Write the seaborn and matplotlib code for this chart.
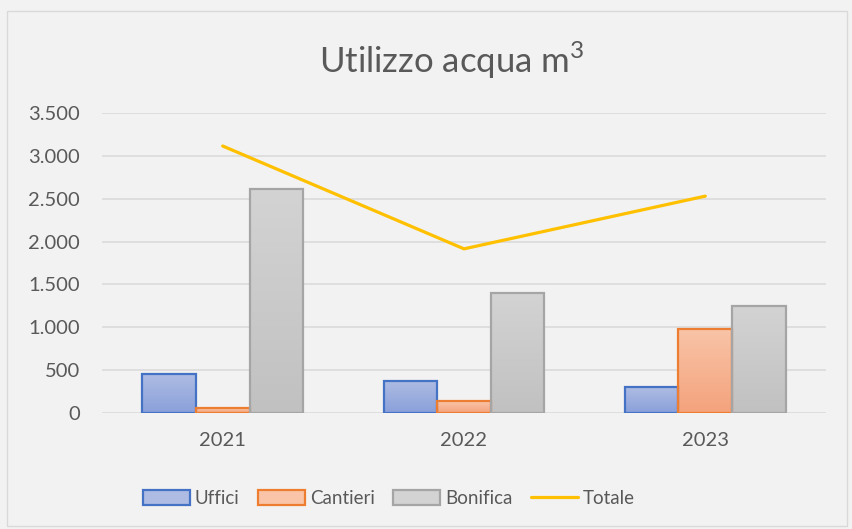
import numpy as np
import pandas as pd
import seaborn as sns
import matplotlib.pyplot as plt
from matplotlib.patches import Rectangle
from matplotlib.lines import Line2D
from matplotlib.colors import LinearSegmentedColormap
from matplotlib.ticker import FuncFormatter, MultipleLocator

# dati (m3)
anni = ["2021", "2022", "2023"]
serie = ["Uffici", "Cantieri", "Bonifica"]
uffici = [450, 375, 300]
cantieri = [55, 140, 985]
bonifica = [2610, 1400, 1245]
totale = [3115, 1915, 2530]

df = pd.DataFrame({
    "anno": anni * 3,
    "serie": np.repeat(serie, 3),
    "valore": uffici + cantieri + bonifica,
})

# colori stile Excel: bordo, sfumatura alto -> basso
bordi = {"Uffici": "#4472C4", "Cantieri": "#ED7D31", "Bonifica": "#A5A5A5"}
sfumature = {
    "Uffici": ("#AEBCE3", "#8AA0DA"),
    "Cantieri": ("#F9C4A8", "#F4A37C"),
    "Bonifica": ("#D3D3D3", "#C1C1C1"),
}
testo = "#595959"
sfondo = "#F2F2F2"

sns.set_theme(style="white")
plt.rcParams["font.family"] = ["Lato", "DejaVu Sans"]
plt.rcParams["mathtext.fontset"] = "custom"
plt.rcParams["mathtext.rm"] = "Lato"

fig = plt.figure(figsize=(8.53, 5.29), dpi=100, facecolor=sfondo)
ax = fig.add_axes([0.1196, 0.2193, 0.8487, 0.5671])
ax.set_facecolor(sfondo)

sns.barplot(data=df, x="anno", y="valore", hue="serie", hue_order=serie,
            palette=[sfumature[s][1] for s in serie], width=0.667, gap=0,
            legend=False, ax=ax)

# bordi e riempimento sfumato per ogni barra
for nome, cont in zip(serie, ax.containers):
    cmap = LinearSegmentedColormap.from_list(nome, [sfumature[nome][1], sfumature[nome][0]])
    for p in cont.patches:
        p.set_edgecolor(bordi[nome])
        p.set_linewidth(1.6)
        x0, w, h = p.get_x(), p.get_width(), p.get_height()
        img = ax.imshow(np.linspace(0, 1, 64).reshape(-1, 1), cmap=cmap, origin="lower",
                        extent=[x0, x0 + w, 0, h], aspect="auto", zorder=p.get_zorder() - 0.1)
        img.set_clip_path(p)
        p.set_facecolor("none")

sns.lineplot(x=[0, 1, 2], y=totale, color="#FFC000", linewidth=2.3, ax=ax)

ax.set_xlim(-0.5, 2.5)
ax.set_ylim(0, 3500)
ax.set_xticks(range(3))
ax.set_xticklabels(anni)
ax.yaxis.set_major_locator(MultipleLocator(500))
ax.yaxis.set_major_formatter(FuncFormatter(lambda v, _: f"{int(v):,}".replace(",", ".")))
ax.yaxis.grid(True, color="#D9D9D9", linewidth=1.1)
ax.set_axisbelow(True)
for s in ax.spines.values():
    s.set_visible(False)
ax.tick_params(axis="both", length=0, labelsize=14.5, labelcolor=testo)
ax.tick_params(axis="y", pad=16)
ax.tick_params(axis="x", pad=14)
ax.set_xlabel("")
ax.set_ylabel("")

fig.text(0.530, 0.887, r"Utilizzo acqua m$^{3}$", ha="center", va="center",
         fontsize=25, color=testo)

maniglie = [Rectangle((0, 0), 1, 1, facecolor=sfumature[s][0], edgecolor=bordi[s], linewidth=1.6)
            for s in serie]
maniglie.append(Line2D([0], [0], color="#FFC000", linewidth=2.3))
fig.legend(maniglie, serie + ["Totale"], loc="center", bbox_to_anchor=(0.456, 0.058),
           ncol=4, frameon=False, fontsize=13.5, labelcolor=testo,
           handlelength=2.5, handleheight=0.85, handletextpad=0.25, columnspacing=1.0)

fig.patches.append(Rectangle((0.008, 0.005), 0.985, 0.975, transform=fig.transFigure,
                             fill=False, edgecolor="#D9D9D9", linewidth=1))

fig.savefig("out.png", dpi=100, facecolor=sfondo)
